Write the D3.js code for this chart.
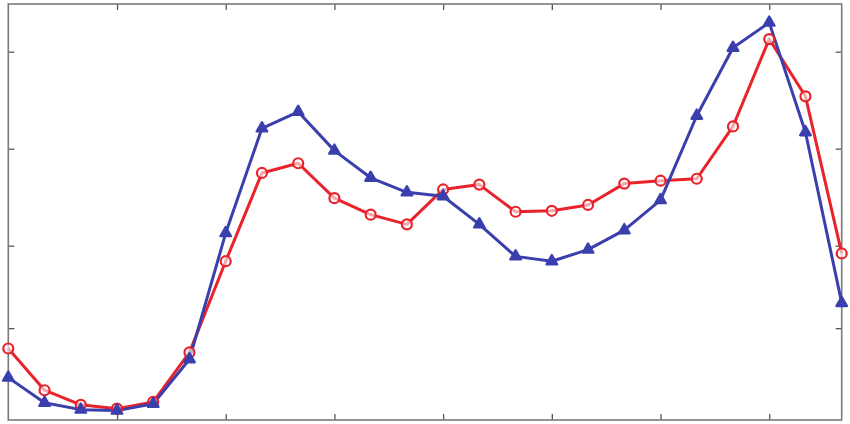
<!DOCTYPE html>
<html>
<head>
<meta charset="utf-8">
<script src="https://cdn.jsdelivr.net/npm/d3@7"></script>
<style>
html,body{margin:0;padding:0;background:#fff;}
svg{display:block;}
</style>
</head>
<body>
<svg id="chart" width="850" height="424"></svg>
<script>
// x positions (hours 0..23)
const hours = d3.range(0, 24);
const xTicks = [3, 6, 9, 12, 15, 18, 21];
const yTicks = [0.15, 1, 2, 3];
// Red series (circles) - estimated values
const redValues = [-0.06, -0.49, -0.64, -0.68, -0.61, -0.10, 0.84, 1.75, 1.85, 1.49, 1.32, 1.22, 1.58, 1.63, 1.35, 1.36, 1.42, 1.64, 1.67, 1.69, 2.23, 3.13, 2.54, 0.92];
// Blue series (triangles) - estimated values
const blueValues = [-0.36, -0.62, -0.69, -0.70, -0.63, -0.17, 1.13, 2.21, 2.38, 1.98, 1.70, 1.55, 1.51, 1.22, 0.89, 0.84, 0.96, 1.16, 1.47, 2.34, 3.04, 3.30, 2.17, 0.41];

const svg = d3.select("#chart");
const pLeft = 8.3, pRight = 841.7, pTop = 4, pBottom = 420;
const x = d3.scaleLinear().domain([0, 23]).range([pLeft, pRight]);
const y = d3.scaleLinear().domain([1, 3]).range([245.7, 51.7]);

const frameColor = "#7a7a7a";
// axes with inward ticks
svg.append("g").attr("transform", `translate(0,${pBottom})`)
  .call(d3.axisBottom(x).tickValues(xTicks).tickSize(-6).tickFormat(""))
  .call(g => g.select(".domain").remove());
svg.append("g").attr("transform", `translate(0,${pTop})`)
  .call(d3.axisTop(x).tickValues(xTicks).tickSize(-6).tickFormat(""))
  .call(g => g.select(".domain").remove());
svg.append("g").attr("transform", `translate(${pLeft},0)`)
  .call(d3.axisLeft(y).tickValues(yTicks).tickSize(-6).tickFormat(""))
  .call(g => g.select(".domain").remove());
svg.append("g").attr("transform", `translate(${pRight},0)`)
  .call(d3.axisRight(y).tickValues(yTicks).tickSize(-6).tickFormat(""))
  .call(g => g.select(".domain").remove());
svg.selectAll(".tick line").attr("stroke", "#555").attr("stroke-width", 1.3);

svg.append("rect")
  .attr("x", pLeft).attr("y", pTop)
  .attr("width", pRight - pLeft).attr("height", pBottom - pTop)
  .attr("fill", "none").attr("stroke", frameColor).attr("stroke-width", 1.6);

const line = d3.line().x((d, i) => x(hours[i])).y(d => y(d));

const red = "#e8232b", blue = "#3b3fae";

svg.append("path").datum(redValues).attr("d", line)
  .attr("fill", "none").attr("stroke", red).attr("stroke-width", 3).attr("stroke-linejoin", "round");
svg.append("path").datum(blueValues).attr("d", line)
  .attr("fill", "none").attr("stroke", blue).attr("stroke-width", 3).attr("stroke-linejoin", "round");

svg.selectAll("circle.red").data(redValues).join("circle")
  .attr("class", "red")
  .attr("cx", (d, i) => x(hours[i])).attr("cy", d => y(d)).attr("r", 5)
  .attr("fill", "#fff").attr("fill-opacity", 0.6).attr("stroke", red).attr("stroke-width", 2.2);

const tri = d3.symbol().type(d3.symbolTriangle).size(50);
svg.selectAll("path.blue").data(blueValues).join("path")
  .attr("class", "blue")
  .attr("d", tri)
  .attr("transform", (d, i) => `translate(${x(hours[i])},${y(d)})`)
  .attr("fill", blue).attr("stroke", blue).attr("stroke-width", 2.2).attr("stroke-linejoin", "round");
</script>
</body>
</html>
